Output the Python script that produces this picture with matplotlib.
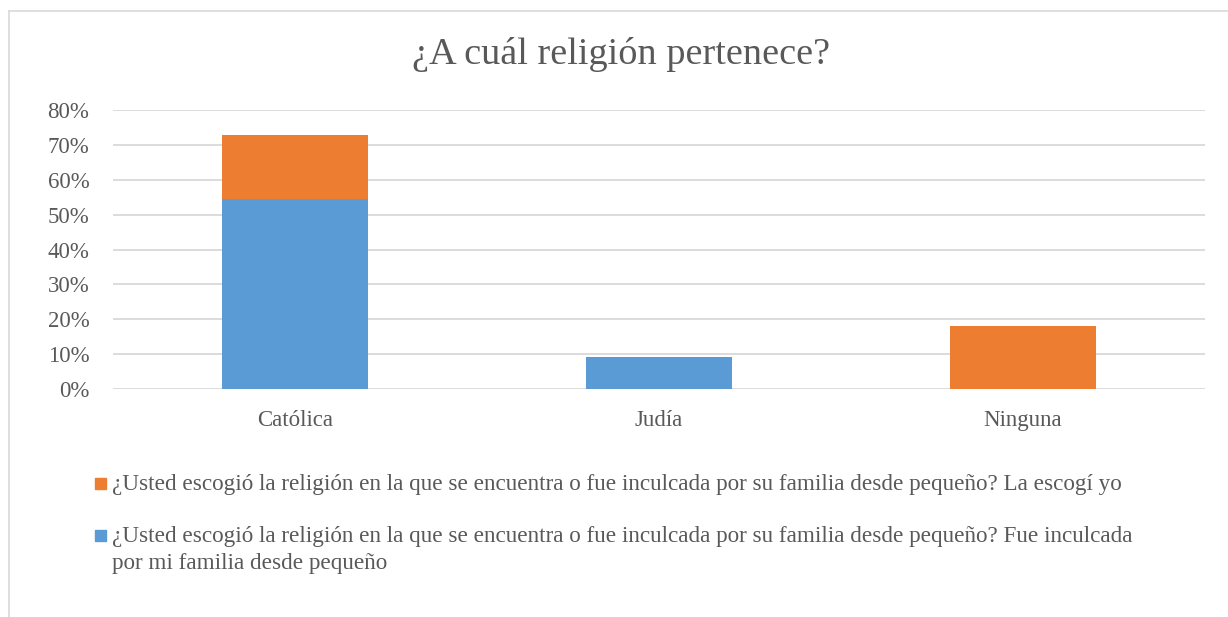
import matplotlib
matplotlib.use("Agg")
from matplotlib import pyplot as plt
from matplotlib.patches import Rectangle
from matplotlib.lines import Line2D
from matplotlib.ticker import PercentFormatter

categorias = ["Católica", "Judía", "Ninguna"]
inculcada = [54.5, 9.1, 0.0]
escogi = [18.2, 0.0, 18.2]
etiquetas = [
    "¿Usted escogió la religión en la que se encuentra o fue inculcada por su familia desde pequeño? La escogí yo",
    "¿Usted escogió la religión en la que se encuentra o fue inculcada por su familia desde pequeño? Fue inculcada\npor mi familia desde pequeño",
]
azul = "#5B9BD5"
naranja = "#ED7D31"
gris = "#595959"

plt.rcParams["font.family"] = ["Liberation Serif", "DejaVu Serif"]

W, H = 1228, 617
fig = plt.figure(figsize=(W / 100, H / 100), dpi=100)
ax = fig.add_axes([113 / W, 1 - 389 / H, (1205 - 113) / W, (389 - 110) / H])

x = range(len(categorias))
ax.bar(x, inculcada, width=0.4, color=azul, zorder=3)
ax.bar(x, escogi, width=0.4, bottom=inculcada, color=naranja, zorder=3)

ax.set_xlim(-0.5, 2.5)
ax.set_ylim(0, 80)
ax.set_yticks(range(0, 81, 10))
ax.yaxis.set_major_formatter(PercentFormatter(decimals=0))
ax.set_xticks(list(x))
ax.set_xticklabels(categorias)
ax.grid(axis="y", color="#D9D9D9", linewidth=1.3, zorder=0)
for s in ax.spines.values():
    s.set_visible(False)
ax.tick_params(length=0, labelsize=16.5, colors=gris)
ax.tick_params(axis="y", pad=17)
ax.tick_params(axis="x", pad=15)

fig.text(621 / W, 1 - 55 / H, "¿A cuál religión pertenece?", ha="center", va="center",
         fontsize=27.5, color=gris)

# leyenda
ys = [483, 535]
cols = [naranja, azul]
for yy, c, t in zip(ys, cols, etiquetas):
    fig.add_artist(Rectangle((95 / W, 1 - (yy + 6) / H), 11 / W, 11 / H,
                             transform=fig.transFigure, color=c))
    fig.text(112 / W, 1 - (yy - 9) / H, t, ha="left", va="top", fontsize=16.7,
             color=gris, linespacing=1.35)

# borde
fig.add_artist(Line2D([9 / W, 9 / W], [0, 1 - 11 / H], transform=fig.transFigure,
                      color="#D9D9D9", linewidth=1.2))
fig.add_artist(Line2D([9 / W, 1], [1 - 11 / H, 1 - 11 / H], transform=fig.transFigure,
                      color="#D9D9D9", linewidth=1.2))

fig.savefig("out.png", dpi=100, facecolor="white")
